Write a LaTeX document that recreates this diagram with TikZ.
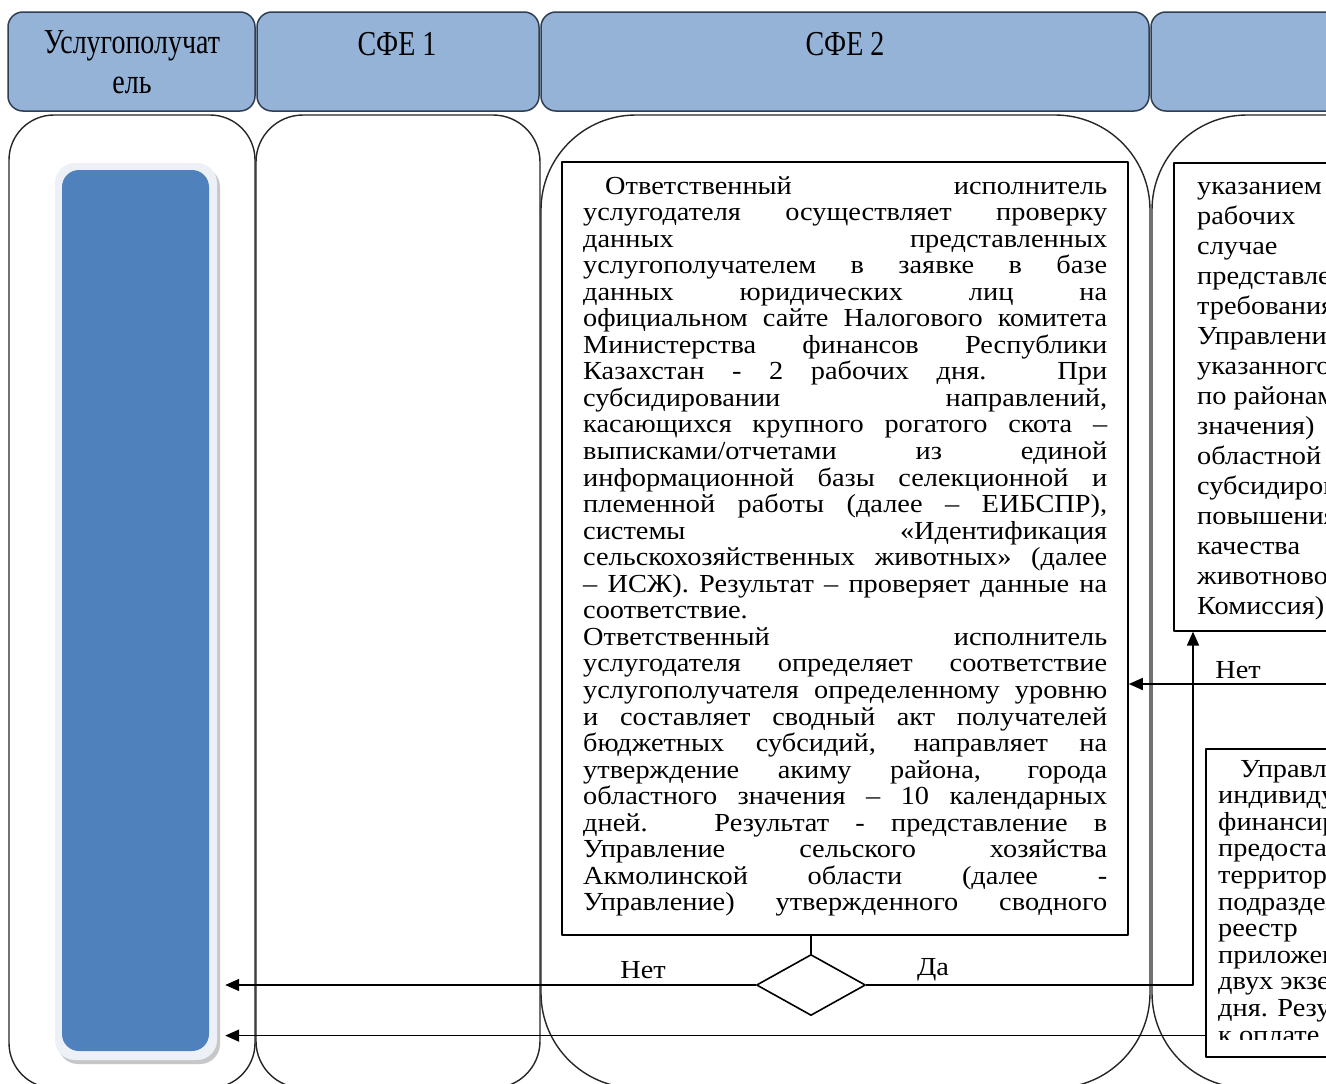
\documentclass[tikz,border=0pt]{standalone}
\usepackage{fontspec}
\setmainfont{Liberation Serif}
\newfontfamily\bodyf[FakeStretch=1.09]{Liberation Serif}
\usetikzlibrary{shapes.geometric,arrows.meta,calc}
\definecolor{hdr}{HTML}{95B3D7}
\definecolor{hdrline}{HTML}{2F3E52}
\definecolor{cblue}{HTML}{4F81BD}
\definecolor{rim}{HTML}{EDF1F7}
\newcommand\jline[1]{\makebox[\linewidth][s]{#1}\par}
\newcommand\lline[1]{\makebox[\linewidth][l]{#1}\par}
\begin{document}
\begin{tikzpicture}[x=1pt,y=-1pt,line join=round,
  hdrbox/.style={draw=hdrline,line width=1.5pt,fill=hdr,rounded corners=15pt,inner sep=0},
  lane/.style={draw=black!85,line width=1.4pt,rounded corners=#1},
  box/.style={draw=black,line width=1.6pt,fill=white,inner sep=0},
  arr/.style={line width=1.6pt,-{Triangle[length=14pt,width=12pt]}},
  conn/.style={line width=1.6pt},
  lbl/.style={font=\bodyf\fontsize{26}{28}\selectfont,inner sep=0},
  htxt/.style={inner sep=0}]
\useasboundingbox (0,0) rectangle (1326,1084);
\fill[white] (0,0) rectangle (1326,1084);
\clip (0,0) rectangle (1326,1084);

% headers
\node[hdrbox,minimum width=247pt,minimum height=99pt] (h1) at (131.5,61.5) {};
\node[hdrbox,minimum width=282pt,minimum height=99pt] (h2) at (398,61.5) {};
\node[hdrbox,minimum width=608pt,minimum height=99pt] (h3) at (845,61.5) {};
\node[hdrbox,minimum width=249pt,minimum height=99pt] (h4) at (1275.5,61.5) {};
\node[htxt] (h1a) at (132,46) {\scalebox{1}[1.25]{\fontsize{28}{30}\selectfont Услугополучат}};
\node[htxt] (h1b) at (132,85) {\scalebox{1}[1.25]{\fontsize{28}{30}\selectfont ель}};
\node[htxt] (h2a) at (397,44) {\scalebox{1}[1.25]{\fontsize{28}{30}\selectfont СФЕ 1}};
\node[htxt] (h3a) at (845,44) {\scalebox{1}[1.25]{\fontsize{28}{30}\selectfont СФЕ 2}};

% lanes
\draw[lane=45pt] (9,115) rectangle (255,1088);
\draw[lane=47pt] (256,115) rectangle (540,1088);
\draw[lane=95pt] (541,115) rectangle (1150,1088);
\draw[lane=95pt] (1152,115) rectangle (1500,1088);

% service recipient block
\fill[black!22,rounded corners=20pt] (58,167) rectangle (220,1064);
\fill[rim,rounded corners=20pt] (55,163) rectangle (217,1060);
\node[fill=cblue,rounded corners=17pt,minimum width=147pt,minimum height=881pt,inner sep=0] (client) at (135.5,610.5) {};

% middle box
\node[box,minimum width=566pt,minimum height=773pt] (mid) at (845,548.5) {};
\node[anchor=base west,inner sep=0] (midtext) at (583,194) {\parbox[t]{524pt}{\bodyf\fontsize{26}{26.55}\selectfont\setlength\parindent{0pt}%
\jline{\hspace*{22pt}Ответственный исполнитель}
\jline{услугодателя осуществляет проверку}
\jline{данных представленных}
\jline{услугополучателем в заявке в базе}
\jline{данных юридических лиц на}
\jline{официальном сайте Налогового комитета}
\jline{Министерства финансов Республики}
\jline{Казахстан - 2 рабочих дня. При}
\jline{субсидировании направлений,}
\jline{касающихся крупного рогатого скота –}
\jline{выписками/отчетами из единой}
\jline{информационной базы селекционной и}
\jline{племенной работы (далее – ЕИБСПР),}
\jline{системы «Идентификация}
\jline{сельскохозяйственных животных» (далее}
\jline{– ИСЖ). Результат – проверяет данные на}
\lline{соответствие.}
\jline{Ответственный исполнитель}
\jline{услугодателя определяет соответствие}
\jline{услугополучателя определенному уровню}
\jline{и составляет сводный акт получателей}
\jline{бюджетных субсидий, направляет на}
\jline{утверждение акиму района, города}
\jline{областного значения – 10 календарных}
\jline{дней. Результат - представление в}
\jline{Управление сельского хозяйства}
\jline{Акмолинской области (далее -}
\jline{Управление) утвержденного сводного}}};

% upper right box
\node[box,minimum width=300pt,minimum height=468pt,anchor=north west] (ur) at (1173,162) {};
\node[anchor=base west,inner sep=0] (urtext) at (1197,194) {\parbox[t]{400pt}{\bodyf\fontsize{26}{30}\selectfont\setlength\parindent{0pt}%
указанием\\рабочих\\случае\\представления\\требованиям\\Управление\\указанного\\по районам\\значения)\\областной\\субсидирования\\повышения\\качества\\животноводства\\Комиссия).}};

% lower right box
\node[box,minimum width=300pt,minimum height=308pt,anchor=north west] (lr) at (1205,748) {};
\begin{scope}
\clip (1207,750) rectangle (1330,1039);
\node[anchor=base west,inner sep=0] (lrtext) at (1218,777) {\parbox[t]{400pt}{\bodyf\fontsize{26}{26.6}\selectfont\setlength\parindent{0pt}%
\hspace*{22pt}Управление\\индивидуального\\финансирования\\предоставляет\\территориальному\\подразделению\\реестр\\приложению\\двух экземплярах\\дня. Результат\\к оплате}};
\end{scope}

% decision
\node[draw,diamond,line width=1.6pt,minimum width=109pt,minimum height=61pt,inner sep=0,fill=white] (dia) at (811,985) {};

% connectors
\draw[conn] (mid.south -| dia.north) -- (dia.north);
\draw[arr] (dia.west) -- ([xshift=16pt]client.east |- dia.west);
\draw[arr] (dia.east) -| ([xshift=20pt]ur.south west);
\coordinate (rin) at (1335,684);
\draw[arr] (rin) -- (mid.east |- rin);
\coordinate (lout) at ($(lr.south west)+(0,-22)$);
\draw[arr] (lout) -- ([xshift=16pt]client.east |- lout);

% labels
\node[lbl] (lno) at (643,970) {Нет};
\node[lbl] (lyes) at (933,970) {Да};
\node[lbl] (rno) at (1238,670) {Нет};
\end{tikzpicture}
\end{document}
